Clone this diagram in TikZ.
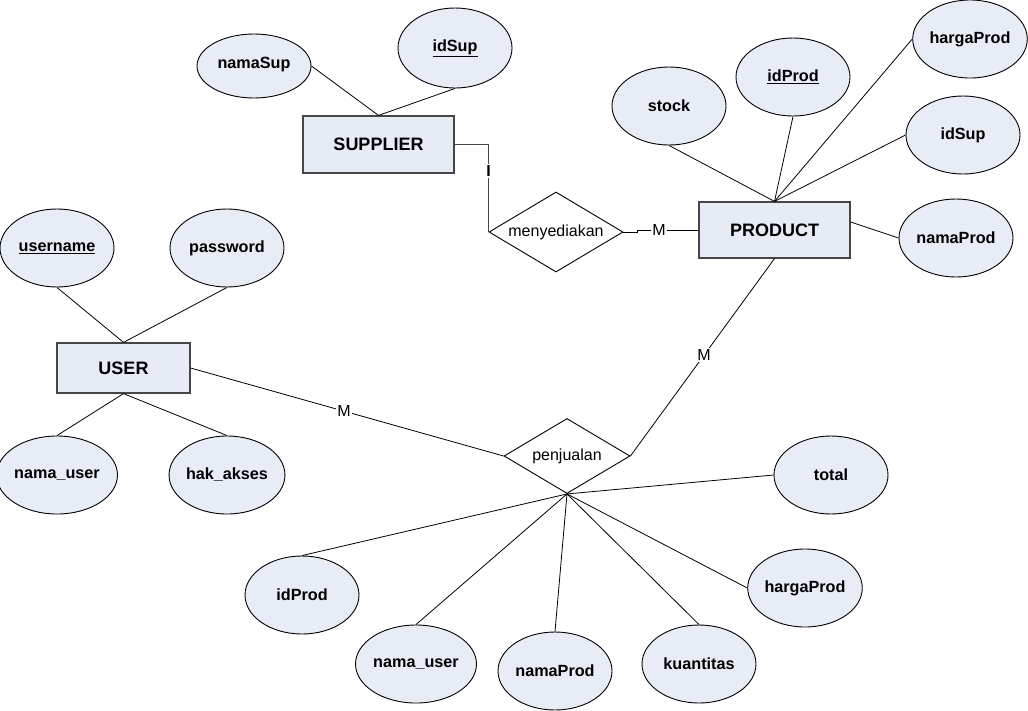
\documentclass[tikz,border=0pt]{standalone}
\usepackage{fontspec}
\setmainfont{Liberation Sans}
\usetikzlibrary{shapes.geometric,calc}
\definecolor{attrfill}{RGB}{232,236,247}
\definecolor{entfill}{RGB}{230,235,246}
\definecolor{edgegrey}{RGB}{70,70,70}
\begin{document}
\begin{tikzpicture}[x=1pt,y=-1pt,
  attr/.style={ellipse,draw=black,line width=0.9pt,fill=attrfill,minimum width=114pt,minimum height=78pt,inner sep=0pt,font=\fontsize{16.2}{19}\selectfont\bfseries},
  entity/.style={rectangle,draw=edgegrey,line width=1.2pt,fill=entfill,inner sep=0pt,font=\fontsize{18}{21}\selectfont\bfseries},
  rel/.style={diamond,draw=black,line width=0.9pt,fill=white,inner sep=0pt},
  reltext/.style={inner sep=0pt,font=\fontsize{16}{19}\selectfont},
  conn/.style={draw=black,line width=0.8pt},
  card/.style={fill=white,inner sep=1.5pt,font=\fontsize{16}{19}\selectfont}]
\useasboundingbox (0,0) rectangle (1028,710);
\fill[white] (0,0) rectangle (1028,710);

% entities
\node[entity,minimum width=151pt,minimum height=57pt] (sup) at (378.5,144.5) {SUPPLIER};
\node[entity,minimum width=151pt,minimum height=56pt] (prod) at (774.5,230) {PRODUCT};
\node[entity,minimum width=133pt,minimum height=50pt] (user) at (123.5,368) {USER};

% relationships
\node[rel,minimum width=134pt,minimum height=80pt] (men) at (556,232) {};
\node[reltext] (menText) at (men.center) {menyediakan};
\node[rel,minimum width=126pt,minimum height=75pt] (pen) at (567,456) {};
\node[reltext] (penText) at (pen.center) {penjualan};

% supplier attributes
\node[attr,minimum height=64pt] (namaSup) at (254,66) {\raisebox{7pt}{namaSup}};
\node[attr,minimum height=80pt] (idSupS) at (455,48) {\underline{idSup}};

% product attributes
\node[attr] (stock) at (669,106) {stock};
\node[attr] (idProd) at (793,77) {\underline{idProd}};
\node[attr] (hargaProd) at (970,39) {hargaProd};
\node[attr] (idSupP) at (963,135) {idSup};
\node[attr] (namaProd) at (956,238) {namaProd};

% user attributes
\node[attr] (username) at (57,248) {\underline{username}};
\node[attr] (password) at (227,248) {password};
\node[attr] (namaUser) at (57,475) {nama\_user};
\node[attr] (hakAkses) at (227,475) {hak\_akses};

% penjualan attributes
\node[attr] (total) at (831,475) {total};
\node[attr] (idProd2) at (302,595) {idProd};
\node[attr] (namaUser2) at (416,664) {nama\_user};
\node[attr] (namaProd2) at (555,671) {namaProd};
\node[attr] (kuantitas) at (699,664) {kuantitas};
\node[attr] (hargaProd2) at (805,588) {hargaProd};

% connectors: supplier
\draw[conn] (namaSup.east) -- (sup.north);
\draw[conn] (idSupS.south) -- (sup.north);
% product
\draw[conn] (stock.south) -- (prod.north);
\draw[conn] (idProd.south) -- (prod.north);
\draw[conn] (hargaProd.west) -- (prod.north);
\draw[conn] (idSupP.west) -- (prod.north);
\draw[conn] ([yshift=8pt]prod.east) -- (namaProd.west);
% user
\draw[conn] (username.south) -- (user.north);
\draw[conn] (password.south) -- (user.north);
\draw[conn] (user.south) -- (namaUser.north);
\draw[conn] (user.south) -- (hakAkses.north);
% penjualan
\draw[conn] (pen.south) -- (total.west);
\draw[conn] (pen.south) -- (idProd2.north);
\draw[conn] (pen.south) -- (namaUser2.north);
\draw[conn] (pen.south) -- (namaProd2.north);
\draw[conn] (pen.south) -- (kuantitas.north);
\draw[conn] (pen.south) -- (hargaProd2.west);

% relationship lines
\draw[conn,draw=edgegrey,line width=1pt] (sup.east) -| (men.west)
  node[pos=0.65,card,font=\fontsize{16}{19}\selectfont\bfseries] {I};
\coordinate (mstep) at (637,232);
\draw[conn] (men.east) -- (mstep) |- (prod.west)
  node[pos=0.68,card] {M};
\draw[conn] (user.east) -- (pen.west) node[pos=0.49,card] {M};
\draw[conn] (prod.south) -- (pen.east) node[pos=0.49,card] {M};
\end{tikzpicture}
\end{document}
